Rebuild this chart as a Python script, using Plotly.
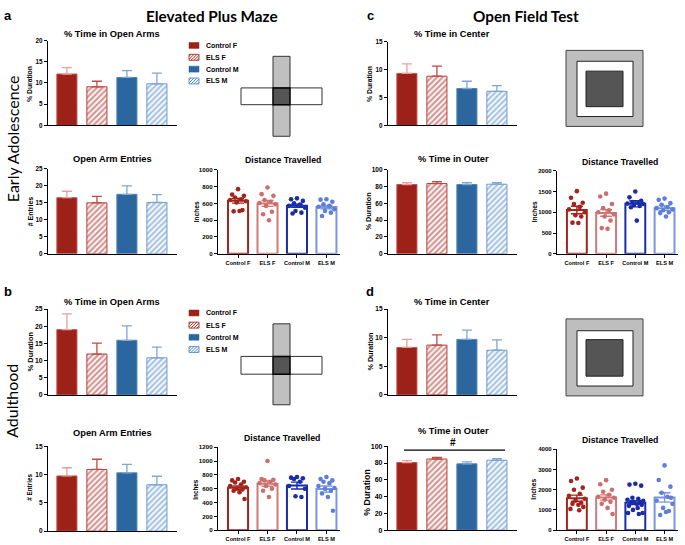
import plotly.graph_objects as go

W, H = 685, 545
FONT = "Liberation Sans, Arial, sans-serif"
HEAD = "Lato, Open Sans, sans-serif"

groups = ["Control F", "ELS F", "Control M", "ELS M"]

# ---------------- data ----------------
# (a) Elevated plus maze, early adolescence
a_open_mean = [12.1, 9.1, 11.3, 9.8]
a_open_sem = [1.5, 1.3, 1.6, 2.5]
a_entries_mean = [16.5, 15.0, 17.5, 15.1]
a_entries_sem = [1.9, 1.9, 2.5, 2.3]
a_dist_mean = [631, 600, 573, 557]
a_dist_sem = [28, 35, 18, 20]
a_dist_pts = [
    [770, 705, 690, 670, 650, 640, 625, 610, 520, 505, 510],
    [790, 710, 690, 640, 620, 605, 590, 570, 500, 470, 400],
    [660, 650, 630, 600, 585, 570, 550, 510, 490, 480],
    [650, 645, 620, 590, 570, 560, 530, 510, 490, 450],
]
# (c) Open field, early adolescence
c_center_mean = [9.3, 8.8, 6.6, 6.1]
c_center_sem = [1.7, 1.8, 1.3, 1.0]
c_outer_mean = [82.5, 83.7, 82.5, 82.9]
c_outer_sem = [2.3, 2.3, 2.3, 1.9]
c_dist_mean = [1056, 984, 1205, 1100]
c_dist_sem = [90, 80, 75, 60]
c_dist_pts = [
    [1510, 1350, 1230, 1200, 1130, 1070, 1000, 930, 900, 750, 740],
    [1450, 1380, 1200, 1100, 1050, 1000, 950, 900, 800, 620, 600],
    [1500, 1360, 1280, 1250, 1230, 1210, 1200, 1180, 1150, 1120, 800],
    [1330, 1300, 1220, 1180, 1120, 1100, 1070, 1050, 1000, 980, 900],
]
# (b) Elevated plus maze, adulthood
b_open_mean = [19.0, 11.9, 15.9, 10.8]
b_open_sem = [4.6, 3.2, 4.2, 3.1]
b_entries_mean = [9.75, 10.9, 10.3, 8.2]
b_entries_sem = [1.45, 1.8, 1.5, 1.5]
b_dist_mean = [615, 673, 645, 595]
b_dist_sem = [25, 38, 50, 45]
b_dist_pts = [
    [740, 720, 700, 690, 660, 640, 620, 600, 590, 570, 550, 450],
    [1000, 740, 730, 720, 700, 680, 660, 640, 600, 570, 480],
    [770, 760, 750, 740, 700, 640, 600, 490, 480],
    [770, 740, 720, 700, 680, 640, 610, 600, 570, 530, 480, 280],
]
# (d) Open field, adulthood
d_center_mean = [8.3, 8.7, 9.7, 7.8]
d_center_sem = [1.4, 1.8, 1.6, 1.8]
d_outer_mean = [80.5, 84.8, 79.0, 83.3]
d_outer_sem = [2.4, 2.0, 2.3, 1.9]
d_dist_mean = [1580, 1615, 1360, 1615]
d_dist_sem = [150, 130, 100, 230]
d_dist_pts = [
    [2550, 2430, 2100, 2000, 1800, 1700, 1550, 1450, 1350, 1300, 1250, 1150, 1050, 980],
    [2470, 2270, 2000, 1900, 1750, 1650, 1600, 1500, 1400, 1300, 1100, 800],
    [2290, 2250, 2200, 1600, 1550, 1500, 1450, 1400, 1400, 1350, 1300, 1250, 1200, 1100, 1000, 850, 850, 800],
    [3200, 2480, 2150, 1850, 1650, 1450, 1300, 1100, 950, 750, 900, 1600],
]

# ---------------- styles ----------------
BAR_FILL = ["#9B2119", "white", "#2B679E", "white"]
BAR_LINE = ["#C5524C", "#B8403B", "#4F85BA", "#6A9BD1"]
BAR_HATCH = [None, "#A8302B", None, "#5288C6"]
BAR_ERR = ["#E8A09C", "#C24A45", "#7EA7D3", "#7EA7D3"]
DIST_LINE = ["#A3241C", "#D07A78", "#1A2DA8", "#7A96E0"]
DIST_DOT = ["#A3241C", "#CD6E6C", "#1A2DA8", "#5E7FD8"]
JIT = [0.0, -0.2, 0.2, -0.1, 0.1, -0.27, 0.27, -0.05, 0.15, -0.15, 0.05, 0.22,
       -0.22, 0.08, -0.08, 0.25, -0.25, 0.12]


def X(px):
    return px / W


def Y(py):
    return 1 - py / H


panels = [
    dict(kind="bar", box=(48, 177, 37, 123), mean=a_open_mean, sem=a_open_sem, ymax=20, dtick=5,
         title="% Time in Open Arms", t=(112, 30), ylab="% Duration", l=(30, 81), lsz=6.8, tsz=6.3),
    dict(kind="bar", box=(48, 177, 167, 253), mean=a_entries_mean, sem=a_entries_sem, ymax=25, dtick=5,
         title="Open Arm Entries", t=(112, 157), ylab="# Entries", l=(30, 210), lsz=7, tsz=6.3),
    dict(kind="dist", box=(218, 340, 168, 253), mean=a_dist_mean, sem=a_dist_sem, pts=a_dist_pts,
         ymax=1000, dtick=200, title="Distance Travelled", t=(283, 158), ylab="Inches", l=(196, 210),
         lsz=6.6, tsz=6.2),
    dict(kind="bar", box=(388, 517, 38, 123), mean=c_center_mean, sem=c_center_sem, ymax=15, dtick=5,
         title="% Time in Center", t=(452, 30), ylab="% Duration", l=(370, 81), lsz=6.8, tsz=6.3),
    dict(kind="bar", box=(388, 517, 168, 253), mean=c_outer_mean, sem=c_outer_sem, ymax=100, dtick=20,
         title="% Time in Outer", t=(453, 157), ylab="% Duration", l=(368, 210), lsz=7.2, tsz=6.5),
    dict(kind="dist", box=(557, 678, 169, 253), mean=c_dist_mean, sem=c_dist_sem, pts=c_dist_pts,
         ymax=2000, dtick=500, title="Distance Travelled", t=(620, 160), ylab="Inches", l=(534, 211),
         lsz=6.6, tsz=6.0),
    dict(kind="bar", box=(48, 177, 309, 396), mean=b_open_mean, sem=b_open_sem, ymax=25, dtick=5,
         title="% Time in Open Arms", t=(112, 302), ylab="% Duration", l=(30, 352), lsz=7.5, tsz=6.8),
    dict(kind="bar", box=(48, 177, 448, 534), mean=b_entries_mean, sem=b_entries_sem, ymax=15, dtick=5,
         title="Open Arm Entries", t=(112, 435), ylab="# Entries", l=(30, 490), lsz=6.3, tsz=6.5),
    dict(kind="dist", box=(218, 340, 449, 533), mean=b_dist_mean, sem=b_dist_sem, pts=b_dist_pts,
         ymax=1200, dtick=200, title="Distance Travelled", t=(282, 440), ylab="Inches", l=(196, 492),
         lsz=6.3, tsz=6.2),
    dict(kind="bar", box=(388, 517, 309, 396), mean=d_center_mean, sem=d_center_sem, ymax=15, dtick=5,
         title="% Time in Center", t=(452, 302), ylab="% Duration", l=(370, 352), lsz=7.2, tsz=6.5),
    dict(kind="bar", box=(388, 517, 448, 533), mean=d_outer_mean, sem=d_outer_sem, ymax=100, dtick=20,
         title="% Time in Outer", t=(453, 433), ylab="% Duration", l=(367, 495), lsz=8.8, tsz=7),
    dict(kind="dist", box=(557, 678, 451, 533), mean=d_dist_mean, sem=d_dist_sem, pts=d_dist_pts,
         ymax=4000, dtick=1000, title="Distance Travelled", t=(620, 442), ylab="Inches", l=(534, 492),
         lsz=6.6, tsz=6.0),
]

fig = go.Figure()
layout = {}
annotations = []
shapes = []

for i, p in enumerate(panels):
    n = i + 1
    xa = "x" if n == 1 else f"x{n}"
    ya = "y" if n == 1 else f"y{n}"
    x0, x1, y0, y1 = p["box"]
    if p["kind"] == "bar":
        xr = [-0.63, 3.67]
        for g in range(4):
            marker = dict(color=BAR_FILL[g], line=dict(color=BAR_LINE[g], width=1))
            if BAR_HATCH[g]:
                marker["pattern"] = dict(shape="/", fgcolor=BAR_HATCH[g], bgcolor="white",
                                         size=4, solidity=0.55)
            fig.add_trace(go.Bar(
                x=[g], y=[p["mean"][g]], width=0.67, marker=marker,
                error_y=dict(type="data", array=[p["sem"][g]], arrayminus=[0], symmetric=False,
                             color=BAR_ERR[g], thickness=1.3, width=5),
                xaxis=xa, yaxis=ya, showlegend=False, hoverinfo="skip"))
        xaxis = dict(domain=[X(x0), X(x1)], range=xr, anchor=ya, showline=True, linecolor="black",
                     linewidth=1.3, showticklabels=False, ticks="", showgrid=False, zeroline=False,
                     fixedrange=True)
    else:
        xr = [-0.68, 3.46]
        for g in range(4):
            fig.add_trace(go.Bar(
                x=[g], y=[p["mean"][g]], width=0.68,
                marker=dict(color="white", line=dict(color=DIST_LINE[g], width=2)),
                error_y=dict(type="data", array=[p["sem"][g]], color=DIST_LINE[g], thickness=1.4, width=6),
                xaxis=xa, yaxis=ya, showlegend=False, hoverinfo="skip"))
        for g in range(4):
            pts = p["pts"][g]
            fig.add_trace(go.Scatter(
                x=[g + JIT[k % len(JIT)] for k in range(len(pts))], y=pts, mode="markers",
                marker=dict(size=4.6, color=DIST_DOT[g]),
                xaxis=xa, yaxis=ya, showlegend=False, hoverinfo="skip"))
        xaxis = dict(domain=[X(x0), X(x1)], range=xr, anchor=ya, showline=True, linecolor="black",
                     linewidth=1.3, tickvals=[0, 1, 2, 3], ticktext=groups, ticks="outside",
                     ticklen=3, tickwidth=1, tickcolor="black",
                     tickfont=dict(family=FONT, size=5.6, color="black", weight="bold"),
                     showgrid=False, zeroline=False, fixedrange=True)
    yaxis = dict(domain=[Y(y1), Y(y0)], range=[0, p["ymax"]], tick0=0, dtick=p["dtick"], anchor=xa,
                 showline=True, linecolor="black", linewidth=1.3, ticks="outside", ticklen=3,
                 tickwidth=1, tickcolor="black",
                 tickfont=dict(family=FONT, size=p["tsz"], color="black", weight="bold"),
                 showgrid=False, zeroline=False, fixedrange=True)
    layout["xaxis" if n == 1 else f"xaxis{n}"] = xaxis
    layout["yaxis" if n == 1 else f"yaxis{n}"] = yaxis
    tsize = 8.7 if p["kind"] == "dist" else 9.3
    annotations.append(dict(text=f"<b>{p['title']}</b>", x=X(p["t"][0]), y=Y(p["t"][1]),
                            xref="paper", yref="paper", showarrow=False, xanchor="center",
                            yanchor="middle", font=dict(family=FONT, size=tsize, color="black")))
    annotations.append(dict(text=f"<b>{p['ylab']}</b>", x=X(p["l"][0]), y=Y(p["l"][1]),
                            xref="paper", yref="paper", showarrow=False, xanchor="center",
                            yanchor="middle", textangle=-90,
                            font=dict(family=FONT, size=p["lsz"], color="black")))


def legend(ycs):
    for g, yc in enumerate(ycs):
        sx0, sx1, sy0, sy1 = 189, 199, yc - 3, yc + 3
        if BAR_HATCH[g] is None:
            shapes.append(dict(type="rect", xref="paper", yref="paper", x0=X(sx0), x1=X(sx1),
                               y0=Y(sy1), y1=Y(sy0), fillcolor=BAR_FILL[g],
                               line=dict(color=BAR_FILL[g], width=0.5)))
        else:
            shapes.append(dict(type="rect", xref="paper", yref="paper", x0=X(sx0), x1=X(sx1),
                               y0=Y(sy1), y1=Y(sy0), fillcolor="white",
                               line=dict(color=BAR_LINE[g], width=1)))
            w, h = sx1 - sx0, sy1 - sy0
            c = 2.0
            while c < w + h:
                xa_ = max(0.0, c - h)
                xb_ = min(float(w), c)
                shapes.append(dict(type="line", xref="paper", yref="paper",
                                   x0=X(sx0 + xa_), y0=Y(sy0 + (c - xa_)),
                                   x1=X(sx0 + xb_), y1=Y(sy0 + (c - xb_)),
                                   line=dict(color=BAR_HATCH[g], width=1)))
                c += 3.0
        annotations.append(dict(text=f"<b>{groups[g]}</b>", x=X(204), y=Y(yc), xref="paper",
                                yref="paper", showarrow=False, xanchor="left", yanchor="middle",
                                font=dict(family=FONT, size=7, color="black")))


legend([42, 54, 66, 78])
legend([313, 325.3, 337.6, 350])


def rect(px0, px1, py0, py1, fill, lw=1, lc="#333333"):
    shapes.append(dict(type="rect", xref="paper", yref="paper", x0=X(px0), x1=X(px1),
                       y0=Y(py1), y1=Y(py0), fillcolor=fill, line=dict(color=lc, width=lw)))


# plus mazes
for (vy0, vy1, hy0, hy1) in [(53, 134, 85, 102), (324, 406, 357, 375)]:
    rect(273, 290, vy0, vy1, "#C0C0C0", 1)
    rect(241, 322, hy0, hy1, "white", 1)
    rect(273, 290, hy0, hy1, "#555555", 1.5, "black")

# open fields
for (oy0, oy1, my0, my1, iy0, iy1) in [(47, 124, 58, 114, 68, 104), (319, 397, 331, 387, 340, 377)]:
    rect(566, 643, oy0, oy1, "#BEBEBE", 1, "#444444")
    rect(577, 633, my0, my1, "white", 1, "#222222")
    rect(586, 623, iy0, iy1, "#555555", 1, "#222222")

# significance marker in (d) % Time in Outer
shapes.append(dict(type="line", xref="paper", yref="paper", x0=X(404), x1=X(505), y0=Y(452), y1=Y(452),
                   line=dict(color="black", width=1.2)))
annotations.append(dict(text="<b>#</b>", x=X(453), y=Y(444), xref="paper", yref="paper", showarrow=False,
                        xanchor="center", yanchor="middle", font=dict(family=FONT, size=10, color="black")))

for txt, px, py in [("Elevated Plus Maze", 212, 12.5), ("Open Field Test", 526, 12.5)]:
    annotations.append(dict(text=f"<b>{txt}</b>", x=X(px), y=Y(py), xref="paper", yref="paper",
                            showarrow=False, xanchor="center", yanchor="middle",
                            font=dict(family=HEAD, size=15.3, color="black")))
for txt, px, py in [("a", 8, 12), ("c", 370, 12), ("b", 8, 291), ("d", 370, 291)]:
    annotations.append(dict(text=f"<b>{txt}</b>", x=X(px), y=Y(py), xref="paper", yref="paper",
                            showarrow=False, xanchor="center", yanchor="middle",
                            font=dict(family=FONT, size=13, color="black")))
for txt, py in [("Early Adolescence", 137), ("Adulthood", 402)]:
    annotations.append(dict(text=txt, x=X(12), y=Y(py), xref="paper", yref="paper", showarrow=False,
                            xanchor="center", yanchor="middle", textangle=-90,
                            font=dict(family=HEAD, size=16, color="black")))

fig.update_layout(width=W, height=H, margin=dict(l=0, r=0, t=0, b=0), paper_bgcolor="white",
                  plot_bgcolor="white", barmode="overlay", showlegend=False,
                  annotations=annotations, shapes=shapes, **layout)

fig.write_html("out.html", config={"displayModeBar": False},
               post_script="document.body.style.margin='0';document.body.style.padding='0';")
